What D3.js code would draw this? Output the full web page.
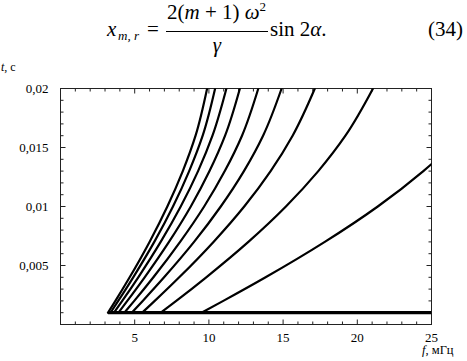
<!DOCTYPE html>
<html><head><meta charset="utf-8">
<script src="https://cdn.jsdelivr.net/npm/d3@7"></script>
<style>
body{margin:0;background:#fff}
svg{display:block}
</style>
</head><body>
<svg id="c" width="467" height="361" font-family="'Liberation Serif','Times New Roman',Tinos,'DejaVu Serif','Noto Serif',serif"></svg>
<script>
// ---- data ----
const xTickValues = [5, 10, 15, 20, 25];
const yTickValues = [0.005, 0.01, 0.015, 0.02];
const tLevels = [0.001, 0.002, 0.004, 0.007, 0.010, 0.013, 0.016, 0.020];
const curve1 = [3.20, 3.70, 4.66, 6.00, 7.20, 8.24, 9.10, 9.88];
const curve2 = [3.37, 3.89, 4.90, 6.32, 7.58, 8.67, 9.58, 10.42];
const curve3 = [3.60, 4.16, 5.24, 6.75, 8.10, 9.27, 10.24, 11.18];
const curve4 = [3.90, 4.50, 5.67, 7.31, 8.78, 10.04, 11.09, 12.09];
const curve5 = [4.30, 4.97, 6.26, 8.06, 9.68, 11.07, 12.23, 13.33];
const curve6 = [4.80, 5.54, 6.98, 9.00, 10.80, 12.36, 13.65, 14.90];
const curve7 = [5.50, 6.35, 8.00, 10.31, 12.38, 14.16, 15.64, 17.14];
const curve8 = [6.75, 7.80, 9.82, 12.66, 15.19, 17.37, 19.20, 21.06];
const curve9 = [9.50, 10.97, 13.82, 17.81, 21.38, 24.45, 27.02, 29.60];
const baseLineF = [3.2, 25];
const baseLineT = 0.001;

// ---- layout ----
const svg = d3.select("#c");
const x = d3.scaleLinear().domain([0, 25]).range([60.5, 431.5]);
const y = d3.scaleLinear().domain([0, 0.02]).range([324.5, 88.5]);
const [x0, x1] = x.range();
const [yb, yt] = y.range();

svg.append("defs").append("clipPath").attr("id", "clip")
  .append("rect").attr("x", x0).attr("y", yt).attr("width", x1 - x0).attr("height", yb - yt);

// frame
svg.append("rect").attr("x", x0).attr("y", yt).attr("width", x1 - x0).attr("height", yb - yt)
  .attr("fill", "none").attr("stroke", "#222").attr("stroke-width", 1);

// ticks
const xMinor = d3.range(1, 25, 1);
const yMinor = d3.range(1, 20, 1).map(d => d / 1000);
const tickG = svg.append("g").attr("stroke", "#222").attr("stroke-width", 1);
xMinor.forEach(v => {
  const len = v % 5 === 0 ? 5 : 3;
  tickG.append("line").attr("x1", x(v)).attr("x2", x(v)).attr("y1", yb).attr("y2", yb - len);
  tickG.append("line").attr("x1", x(v)).attr("x2", x(v)).attr("y1", yt).attr("y2", yt + len);
});
yMinor.forEach(v => {
  const len = Math.round(v * 1000) % 5 === 0 ? 5 : 3;
  tickG.append("line").attr("x1", x0).attr("x2", x0 + len).attr("y1", y(v)).attr("y2", y(v));
  tickG.append("line").attr("x1", x1).attr("x2", x1 - len).attr("y1", y(v)).attr("y2", y(v));
});

// tick labels
const fmt = v => String(+v.toFixed(3)).replace(".", ",");
svg.append("g").selectAll("text").data(yTickValues).join("text")
  .attr("x", 48.5).attr("y", d => y(d) + 4.3).attr("text-anchor", "end")
  .attr("font-size", 13).text(fmt);
svg.append("g").selectAll("text").data(xTickValues).join("text")
  .attr("x", d => x(d)).attr("y", 341.5).attr("text-anchor", "middle")
  .attr("font-size", 13).text(d => d);

// axis titles
const ty = svg.append("text").attr("x", 1).attr("y", 71).attr("font-size", 12);
ty.append("tspan").attr("font-style", "italic").text("t");
ty.append("tspan").text(", с");
const tx = svg.append("text").attr("x", 422).attr("y", 354).attr("font-size", 12.5);
tx.append("tspan").attr("font-style", "italic").text("f");
tx.append("tspan").text(", мГц");

// curves
const curves = [curve1, curve2, curve3, curve4, curve5, curve6, curve7, curve8, curve9];
const line = d3.line().x(d => x(d[0])).y(d => y(d[1])).curve(d3.curveMonotoneY);
const plot = svg.append("g").attr("clip-path", "url(#clip)");
plot.append("path")
  .attr("d", d3.line().x(d => x(d)).y(() => y(baseLineT))(baseLineF))
  .attr("fill", "none").attr("stroke", "#000").attr("stroke-width", 3.2);
curves.forEach(c => {
  plot.append("path")
    .attr("d", line(c.map((f, i) => [f, tLevels[i]])))
    .attr("fill", "none").attr("stroke", "#000").attr("stroke-width", 2.2)
    .attr("stroke-linejoin", "round").attr("stroke-linecap", "round");
});

// equation header
const eq = svg.append("g").attr("font-size", 21);
eq.append("text").attr("x", 107).attr("y", 36).attr("font-style", "italic").text("x");
eq.append("text").attr("x", 118).attr("y", 40).attr("font-style", "italic").attr("font-size", 13).text("m, r");
eq.append("text").attr("x", 147).attr("y", 36).text("=");
const num = eq.append("text").attr("x", 167).attr("y", 19);
num.append("tspan").text("2(");
num.append("tspan").attr("font-style", "italic").text("m");
num.append("tspan").text(" + 1) ");
num.append("tspan").attr("font-style", "italic").text("ω");
num.append("tspan").attr("font-size", 13).attr("dy", -8).text("2");
eq.append("line").attr("x1", 166).attr("x2", 268).attr("y1", 31.5).attr("y2", 31.5)
  .attr("stroke", "#000").attr("stroke-width", 1);
eq.append("text").attr("x", 217).attr("y", 52).attr("text-anchor", "middle").attr("font-style", "italic").text("γ");
const s = eq.append("text").attr("x", 270).attr("y", 36);
s.append("tspan").text("sin 2");
s.append("tspan").attr("font-style", "italic").text("α");
s.append("tspan").text(".");
eq.append("text").attr("x", 428).attr("y", 36).text("(34)");
</script>
</body></html>
